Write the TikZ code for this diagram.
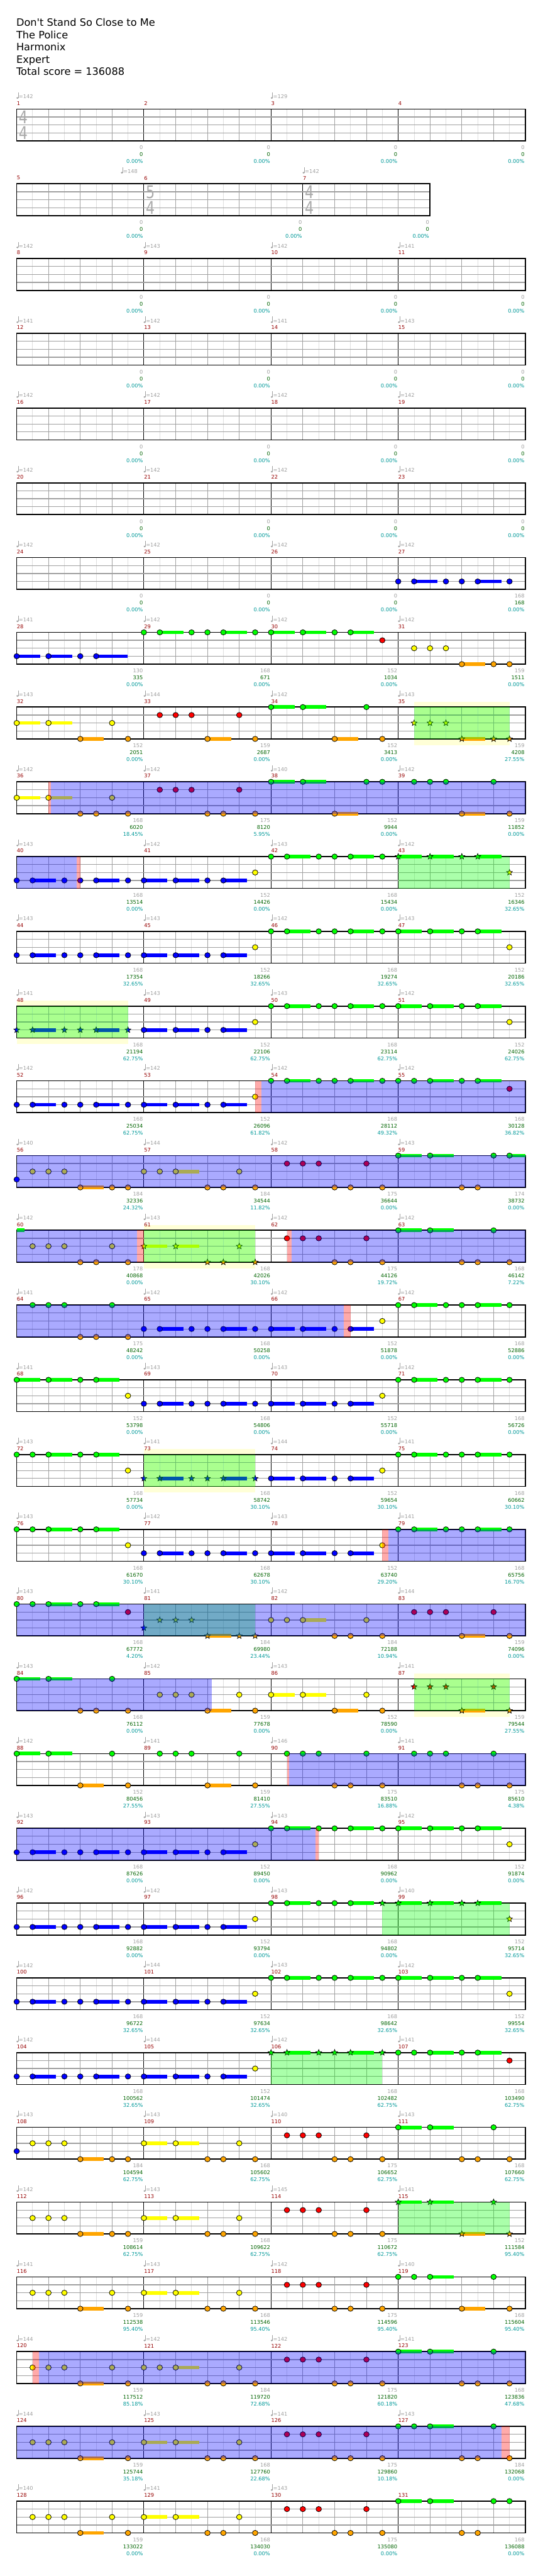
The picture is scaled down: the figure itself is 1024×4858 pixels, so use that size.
\documentclass[tikz,border=0pt]{standalone}
\usepackage{fontspec}
\setmainfont{DejaVu Sans}
\usetikzlibrary{shapes.geometric}
\definecolor{lc0}{RGB}{0,255,0}
\definecolor{lc1}{RGB}{255,0,0}
\definecolor{lc2}{RGB}{255,255,0}
\definecolor{lc3}{RGB}{0,0,255}
\definecolor{lc4}{RGB}{255,165,0}
\definecolor{tgray}{RGB}{160,160,160}
\definecolor{tgreen}{RGB}{0,100,0}
\definecolor{tteal}{RGB}{0,153,153}
\definecolor{tred}{RGB}{150,0,0}
\definecolor{gbeat}{RGB}{160,160,160}
\definecolor{geig}{RGB}{222,222,222}
\definecolor{band}{RGB}{255,255,215}
\definecolor{tsig}{RGB}{170,170,170}
\newcommand\XO{31.5}
\newcommand\EE{30}
\newcommand\setrow[1]{\pgfmathsetmacro\RT{205.7+140.97*#1}}
\newcommand\qh[2]{\filldraw[fill=lc#1,draw=black,line width=0.45pt] (\XO+#2*\EE,\RT+#1*15) ellipse [x radius=2.6pt,y radius=2.5pt];}
\newcommand\qb[3]{\fill[lc#1] (\XO+#2*\EE,\RT+#1*15-3.4) rectangle ++(#3*\EE,6.8);}
\newcommand\qk[2]{\node[star,star points=5,star point ratio=2.3,fill=lc#1,draw=black,line width=0.4pt,inner sep=0pt,minimum size=5.8pt] at (\XO+#2*\EE,\RT+#1*15) {};}
\newcommand\ql[3]{\qb{#1}{#2}{#3}\qh{#1}{#2}}
\newcommand\qn[2]{\foreach \kk in {#2}{\qh{#1}{\kk}}}
\newcommand\qs[2]{\foreach \kk in {#2}{\qb{#1}{\kk}{1.48}\qh{#1}{\kk}}}
\newcommand\qst[2]{\foreach \kk in {#2}{\qk{#1}{\kk}}}
\newcommand\qss[2]{\foreach \kk in {#2}{\qb{#1}{\kk}{1.48}\qk{#1}{\kk}}}
\newcommand\ov[3]{\fill[#1,opacity=0.3333] (\XO+#2*\EE,\RT) rectangle (\XO+#3*\EE,\RT+60);}
\newcommand\oy[2]{\fill[band] (\XO+#1*\EE,\RT-10.2) rectangle (\XO+#2*\EE,\RT+71.5);}
\newcommand\briff{\qn{3}{0,3,4,7,12}\qs{3}{1,5,8,10,13}}
\newcommand\bshift{\qn{3}{8,11,12,15,20}\qs{3}{9,13,16,18,21}}
\newcommand\griff{\qn{0}{16,19,20,23,28}\qs{0}{17,21,24,26,29}}
\newcommand\grid[2]{%
 \pgfmathtruncatemacro\Nm{#1-1}%
 \foreach \kk in {1,3,...,\Nm}{\draw[geig,line width=0.5pt] (\XO+\kk*\EE,\RT) -- ++(0,60);}
 \foreach \kk in {2,4,...,\Nm}{\draw[gbeat,line width=0.5pt] (\XO+\kk*\EE,\RT) -- ++(0,60);}
 \foreach \kk in {#2}{\draw[black,line width=0.5pt] (\XO+\kk*\EE,\RT) -- ++(0,60);}
 \foreach \lw in {15,30,45}{\draw[gbeat,line width=0.75pt] (\XO,\RT+\lw) -- ++(#1*\EE,0);}
 \draw[black,line width=1pt] (\XO,\RT) rectangle ++(#1*\EE,60);}
\newcommand\sg{\grid{32}{8,16,24}}
\newcommand\sm{\fontsize{4.9}{5.9}\selectfont}
\newcommand\tempo[2]{%
 \fill[tgray] (\XO+#1*\EE+1.4,\RT-21) ellipse [x radius=1pt,y radius=0.85pt];
 \draw[tgray,line width=0.4pt] (\XO+#1*\EE+2.9,\RT-21) -- (\XO+#1*\EE+2.9,\RT-31.5);
 \node[anchor=west,inner sep=0pt,text=tgray,font=\sm] at (\XO+#1*\EE+3.6,\RT-23.7) {=#2};}
\newcommand\mnum[2]{\node[anchor=west,inner sep=0pt,text=tred,font=\sm] at (\XO+#1*\EE,\RT-11) {#2};}
\newcommand\score[4]{%
 \node[anchor=east,inner sep=0pt,text=tgray,font=\sm] at (\XO+#1*\EE-1.3,\RT+72.7) {#2};
 \node[anchor=east,inner sep=0pt,text=tgreen,font=\sm] at (\XO+#1*\EE-1.3,\RT+85.7) {#3};
 \node[anchor=east,inner sep=0pt,text=tteal,font=\sm] at (\XO+#1*\EE-1.3,\RT+98.8) {#4\%};}
\newcommand\lab[3]{%
 \foreach \tp [count=\ii from 0] in {#2}{\tempo{\ii*8}{\tp}}
 \foreach \ii in {0,...,3}{\pgfmathtruncatemacro\mm{#1+\ii}\mnum{\ii*8}{\mm}}
 \foreach \va/\vb/\vc [count=\ii] in {#3}{\score{\ii*8}{\va}{\vb}{\vc}}}
\newcommand\tsig[3]{%
 \node[text=tsig,inner sep=0pt,font=\fontsize{16.5}{16.5}\selectfont] at (\XO+#1*\EE+12.3,\RT+15.5) {\scalebox{0.8}[1]{#2}};
 \node[text=tsig,inner sep=0pt,font=\fontsize{16.5}{16.5}\selectfont] at (\XO+#1*\EE+12.3,\RT+45.5) {\scalebox{0.8}[1]{#3}};}
\begin{document}
\begin{tikzpicture}[x=0.5pt,y=-0.5pt]
\useasboundingbox (0,0) rectangle (1024,4858);
\fill[white] (0,0) rectangle (1024,4858);
% title
\begin{scope}[every node/.style={anchor=base west,inner sep=0pt,font=\fontsize{9.6}{11}\selectfont}]
\node (t1) at (30.5,49.3) {Don\textquotesingle t Stand So Close to Me};
\node (t2) at (30.5,72.4) {The Police};
\node (t3) at (30.5,95.5) {Harmonix};
\node (t4) at (30.5,118.6) {Expert};
\node (t5) at (30.5,141.7) {Total score = 136088};
\end{scope}
% row 0
\setrow{0}\sg\tsig{0}{4}{4}
\tempo{0}{142}\tempo{16}{129}
\mnum{0}{1}\mnum{8}{2}\mnum{16}{3}\mnum{24}{4}
\score{8}{0}{0}{0.00}\score{16}{0}{0}{0.00}\score{24}{0}{0}{0.00}\score{32}{0}{0}{0.00}
% row 1
\setrow{1}\grid{26}{8,18}\tsig{8}{5}{4}\tsig{18}{4}{4}
\tempo{6.57}{148}\tempo{18}{142}
\mnum{0}{5}\mnum{8}{6}\mnum{18}{7}
\score{8}{0}{0}{0.00}\score{18}{0}{0}{0.00}\score{26}{0}{0}{0.00}
% rows 2-5
\setrow{2}\sg\lab{8}{142,143,142,141}{0/0/0.00,0/0/0.00,0/0/0.00,0/0/0.00}
\setrow{3}\sg\lab{12}{141,142,141,143}{0/0/0.00,0/0/0.00,0/0/0.00,0/0/0.00}
\setrow{4}\sg\lab{16}{142,142,142,142}{0/0/0.00,0/0/0.00,0/0/0.00,0/0/0.00}
\setrow{5}\sg\lab{20}{142,142,142,142}{0/0/0.00,0/0/0.00,0/0/0.00,0/0/0.00}
% row 6
\setrow{6}\sg
\qn{3}{24,27,28,31}\qs{3}{25,29}
\lab{24}{142,142,142,142}{0/0/0.00,0/0/0.00,0/0/0.00,168/168/0.00}
% row 7
\setrow{7}\sg
\qs{3}{0,2}\qh{3}{4}\ql{3}{5}{1.98}
\qn{0}{8,11,12,15,20}\qs{0}{9,13,16,18,21}
\qn{1}{23}\qn{2}{25,26,27}\qs{4}{28}\qn{4}{30,31}
\lab{28}{141,142,142,142}{130/335/0.00,168/671/0.00,152/1034/0.00,159/1511/0.00}
% row 8
\setrow{8}\oy{25}{31}\sg
\qs{0}{16,18}\qn{0}{22}
\qn{1}{9,10,11,14}
\qs{2}{0,2}\qn{2}{6}\qst{2}{25,26,27}
\qs{4}{4,12,20}\qn{4}{7,15,23}\qss{4}{28}\qst{4}{30,31}
\ov{lc0}{25}{31}
\lab{32}{143,144,142,143}{152/2051/0.00,159/2687/0.00,152/3413/0.00,159/4208/27.55}
% row 9
\setrow{9}\sg
\qs{2}{0,2}\qn{2}{6}
\qn{1}{9,10,11,14}
\qn{4}{4,5,7,12,13,15,31}\qs{4}{20,28}
\qs{0}{16,18}\qn{0}{22,23,25,26,27,30}
\ov{lc3}{2.15}{32}\ov{red}{2}{2.15}
\lab{36}{142,142,140,142}{168/6020/18.45,175/8120/5.95,152/9944/0.00,159/11852/0.00}
% row 10
\setrow{10}\sg
\briff
\qn{2}{15}\qst{2}{31}
\qn{0}{16,19,20,23}\qs{0}{17,21}\qss{0}{24,26,29}\qst{0}{28}
\ov{lc0}{24}{31}\ov{lc3}{0}{3.79}\ov{red}{3.79}{4}
\lab{40}{143,142,143,142}{168/13514/0.00,152/14426/0.00,168/15434/0.00,152/16346/32.65}
% row 11
\setrow{11}\sg
\briff\qn{2}{15,31}\griff
\lab{44}{143,143,142,143}{168/17354/32.65,152/18266/32.65,168/19274/32.65,152/20186/32.65}
% row 12
\setrow{12}\oy{0}{7}\sg
\qst{3}{0,3,4,7}\qss{3}{1,5}\qs{3}{8,10,13}\qn{3}{12}
\qn{2}{15,31}\griff
\ov{lc0}{0}{7}
\lab{48}{141,143,143,142}{168/21194/62.75,152/22106/62.75,168/23114/62.75,152/24026/62.75}
% row 13
\setrow{13}\sg
\briff\qn{2}{15}
\qn{0}{16,19,20,23,24,25,28}\qs{0}{17,21,26,29}
\qn{1}{31}
\ov{lc3}{15.39}{32}\ov{red}{15}{15.39}
\lab{52}{142,142,142,142}{168/25034/62.75,152/26096/61.82,168/28112/49.32,168/30128/36.82}
% row 14
\setrow{14}\sg
\qn{3}{0}
\qn{2}{1,2,3,8,9,14}\qs{2}{10}
\qn{4}{6,7,12,13,15,20,21,23,28,29}\qs{4}{4}
\qn{1}{17,18,19,22}
\qs{0}{24,26}\qn{0}{30}\ql{0}{31}{1}
\ov{lc3}{0}{32}
\lab{56}{140,144,142,143}{184/32336/24.32,184/34544/11.82,175/36644/0.00,174/38732/0.00}
% row 15
\setrow{15}\oy{8}{15}\sg
\qb{0}{0}{0.48}
\qn{2}{1,2,3,6}\qss{2}{8,10}\qst{2}{14}
\qn{4}{4,5,7,20,21,23,28,29,31}\qst{4}{12,13,15}
\qn{1}{17,18,19,22}
\qs{0}{24,26}\qn{0}{30}
\ov{lc0}{8}{15}\ov{lc3}{0}{7.55}\ov{red}{7.55}{8}\ov{red}{17}{17.3}\ov{lc3}{17.3}{32}
\lab{60}{142,143,142,142}{178/40868/0.00,168/42026/30.10,175/44126/19.72,168/46142/7.22}
% row 16
\setrow{16}\sg
\qn{0}{1,2,3,6,24,27,28,31}\qs{0}{25,29}
\qn{4}{4,5,7}
\bshift
\qn{2}{23}
\ov{lc3}{0}{20.57}\ov{red}{20.57}{21}
\lab{64}{141,142,142,142}{175/48242/0.00,168/50258/0.00,152/51878/0.00,168/52886/0.00}
% row 17
\setrow{17}\sg
\qs{0}{0,2,5,25,29}\qn{0}{4,24,27,28,31}
\qn{2}{7,23}\bshift
\lab{68}{141,143,143,142}{152/53798/0.00,168/54806/0.00,152/55718/0.00,168/56726/0.00}
% row 18
\setrow{18}\oy{8}{15}\sg
\qn{0}{0,1,4,24,27,28,31}\qs{0}{2,5,25,29}
\qn{2}{7,23}
\qst{3}{8,11,12,15}\qss{3}{9,13}\qs{3}{16,18,21}\qn{3}{20}
\ov{lc0}{8}{15}
\lab{72}{143,141,144,141}{168/57734/0.00,168/58742/30.10,152/59654/30.10,168/60662/30.10}
% row 19
\setrow{19}\sg
\qn{0}{0,1,4,24,27,28,31}\qs{0}{2,5,25,29}
\qn{2}{7,23}\bshift
\ov{red}{23}{23.38}\ov{lc3}{23.38}{32}
\lab{76}{143,142,143,141}{168/61670/30.10,168/62678/30.10,152/63740/29.20,168/65756/16.70}
% row 20
\setrow{20}\sg
\qn{0}{0,1,4}\qs{0}{2,5}
\qn{1}{7,25,26,27,30}
\qst{3}{8}\qst{2}{9,10,11}
\qss{4}{12}\qst{4}{14,15}
\qn{2}{16,17,22}\qs{2}{18}
\qn{4}{20,21,23,31}\qs{4}{28}
\ov{lc0}{8}{15}\ov{lc3}{0}{32}
\lab{80}{143,141,142,144}{168/67772/4.20,184/69980/23.44,184/72188/10.94,159/74096/0.00}
% row 21
\setrow{21}\oy{25}{31}\sg
\qs{0}{0,2}\qn{0}{6}
\qn{2}{9,10,11,14,22}\qs{2}{16,18}
\qn{4}{4,5,7,15,23}\qs{4}{12,20}\qss{4}{28}\qst{4}{31}
\qst{1}{25,26,27,30}
\ov{lc0}{25}{31}\ov{lc3}{0}{12.26}
\lab{84}{143,142,143,141}{168/76112/0.00,159/77678/0.00,152/78590/0.00,159/79544/27.55}
% row 22
\setrow{22}\sg
\qs{0}{0,2}\qn{0}{6,9,10,11,14,17,18,19,22,25,26,27,30}
\qs{4}{4,12}\qn{4}{7,15,20,21,23,28,29,31}
\ov{red}{17}{17.13}\ov{lc3}{17.13}{32}
\lab{88}{142,141,146,141}{152/80456/27.55,159/81410/27.55,175/83510/16.88,175/85610/4.38}
% row 23
\setrow{23}\sg
\briff\qn{2}{15,31}\griff
\ov{lc3}{0}{18.79}\ov{red}{18.79}{19}
\lab{92}{143,143,143,142}{168/87626/0.00,152/89450/0.00,168/90962/0.00,152/91874/0.00}
% row 24
\setrow{24}\sg
\briff\qn{2}{15}\qst{2}{31}
\qn{0}{16,19,20}\qs{0}{17,21}\qst{0}{23,28}\qss{0}{24,26,29}
\ov{lc0}{23}{31}
\lab{96}{142,142,143,140}{168/92882/0.00,152/93794/0.00,168/94802/0.00,152/95714/32.65}
% row 25
\setrow{25}\sg
\briff\qn{2}{15,31}\griff
\lab{100}{142,144,143,142}{168/96722/32.65,152/97634/32.65,168/98642/32.65,152/99554/32.65}
% row 26
\setrow{26}\sg
\briff\qn{2}{15}
\qst{0}{16,19,20,23}\qss{0}{17,21}
\qn{0}{24,25,28}\qs{0}{26,29}
\qn{1}{31}
\ov{lc0}{16}{23}
\lab{104}{142,144,142,141}{168/100562/32.65,152/101474/32.65,168/102482/62.75,168/103490/62.75}
% row 27
\setrow{27}\sg
\qn{3}{0}
\qn{2}{1,2,3,14}\qs{2}{8,10}
\qs{4}{4}\qn{4}{6,7,12,13,15,20,21,23,28,29,31}
\qn{1}{17,18,19,22}
\qs{0}{24,26}\qn{0}{30}
\lab{108}{143,143,140,143}{184/104594/62.75,168/105602/62.75,175/106652/62.75,168/107660/62.75}
% row 28
\setrow{28}\sg
\qn{2}{1,2,3,14}\qs{2}{8,10}
\qs{4}{4}\qn{4}{6,7,12,13,15,20,21,23}\qss{4}{28}\qst{4}{31}
\qn{1}{17,18,19,22}
\qss{0}{24,26}\qst{0}{30}
\ov{lc0}{24}{31}
\lab{112}{142,143,145,141}{159/108614/62.75,168/109622/62.75,175/110672/62.75,152/111584/95.40}
% row 29
\setrow{29}\sg
\qn{2}{1,2,3,6,14}\qs{2}{8,10}
\qs{4}{4,28}\qn{4}{7,12,13,15,20,21,23,31}
\qn{1}{17,18,19,22}
\qn{0}{24,25,30}\qs{0}{26}
\lab{116}{141,143,142,140}{159/112538/95.40,168/113546/95.40,175/114596/95.40,168/115604/95.40}
% row 30
\setrow{30}\sg
\qn{2}{1,2,3,6,8,9,14}\qs{2}{10}
\qs{4}{4}\qn{4}{7,12,13,15,20,21,23,28,29,31}
\qn{1}{17,18,19,22}
\qs{0}{24,26}\qn{0}{30}
\ov{red}{1}{1.41}\ov{lc3}{1.41}{32}
\lab{120}{144,142,142,141}{159/117512/85.18,184/119720/72.68,175/121820/60.18,168/123836/47.68}
% row 31
\setrow{31}\sg
\qn{2}{1,2,3,6,14}\qs{2}{8,10}
\qs{4}{4}\qn{4}{7,12,13,15,20,21,23,28,29,31}
\qn{1}{17,18,19,22}
\qn{0}{24,25,30}\qs{0}{26}
\ov{lc3}{0}{30.5}\ov{red}{30.5}{31}
\lab{124}{144,143,141,143}{159/125744/35.18,168/127760/22.68,175/129860/10.18,184/132068/0.00}
% row 32
\setrow{32}\sg
\qn{2}{1,2,3,6,14}\qs{2}{8,10}
\qs{4}{4}\qn{4}{7,12,13,15,20,21,23,28,29}
\qn{1}{17,18,19,22}
\qs{0}{24,26}\qn{0}{30,31}
\lab{128}{140,141,143}{159/133022/0.00,168/134030/0.00,175/135080/0.00,168/136088/0.00}
\end{tikzpicture}
\end{document}
